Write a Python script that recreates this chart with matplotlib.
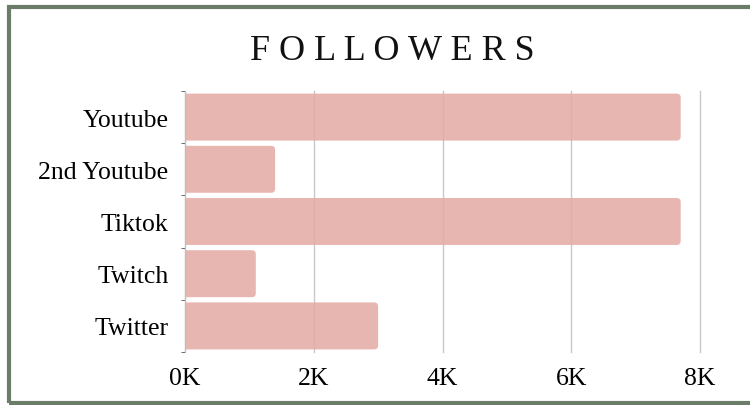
import matplotlib
matplotlib.use("Agg")
import matplotlib.pyplot as plt
from matplotlib.patches import Rectangle, FancyBboxPatch
from matplotlib.ticker import FuncFormatter, FixedLocator

categories = ["Youtube", "2nd Youtube", "Tiktok", "Twitch", "Twitter"]
followers_k = [7.7, 1.4, 7.7, 1.1, 3.0]
xticks = [0, 2, 4, 6, 8]

plt.rcParams['font.family'] = ['Liberation Serif', 'DejaVu Serif']

fig = plt.figure(figsize=(7.5, 4.06), dpi=100)
W, H = 750, 406
ax = fig.add_axes([185 / W, 1 - 353 / H, (700 - 185) / W, (353 - 92) / H])

# border
fig.patches.append(Rectangle((8.5 / W, 2.5 / H), 1.2, 1 - 10.5 / H, transform=fig.transFigure,
                             fill=False, edgecolor='#6B7D68', linewidth=3, zorder=0))

y = list(range(len(categories)))
bars = ax.barh(y, followers_k, height=0.9, color='#E3AAA4', alpha=0.85, zorder=2, linewidth=0)
ax.set_ylim(len(categories) - 0.5, -0.5)
ax.set_xlim(0, 8)

# replace bars with rounded-end versions (left corners clipped by axes)
px_per_x = (700 - 185) / 8.0
px_per_y = (353 - 92) / len(categories)
r = 4 / px_per_x
for b in bars:
    x0, y0, w, h = b.get_x(), b.get_y(), b.get_width(), b.get_height()
    b.set_visible(False)
    p = FancyBboxPatch((x0 - 0.2, y0), w + 0.2, h,
                       boxstyle=f"round,pad=0,rounding_size={r}",
                       mutation_aspect=(px_per_x / px_per_y),
                       facecolor='#E3AAA4', alpha=0.85, linewidth=0, zorder=2)
    ax.add_patch(p)

ax.set_yticks(y)
ax.set_yticklabels(categories)
ax.set_xticks(xticks)
ax.xaxis.set_major_formatter(FuncFormatter(lambda v, p: f"{int(v)}K"))
ax.grid(axis='x', color='#C8C8C8', linewidth=1, zorder=1)
for gl in ax.get_xgridlines():
    gl.set_clip_on(False)
ax.set_axisbelow(True)
for s in ['top', 'right', 'bottom']:
    ax.spines[s].set_visible(False)
ax.spines['left'].set_color('#BFBFBF')
ax.yaxis.set_minor_locator(FixedLocator([i + 0.5 for i in range(-1, len(categories))]))
ax.tick_params(axis='y', which='major', length=0, pad=12, labelsize=18.5)
ax.tick_params(axis='y', which='minor', length=3, color='#555555', direction='out')
ax.tick_params(axis='x', length=0, pad=11, labelsize=18.5)

fig.text(392 / W, 1 - 52 / H, "F O L L O W E R S", ha='center', va='center', fontsize=26,
         color='#111111')

fig.savefig("out.png", dpi=100)
